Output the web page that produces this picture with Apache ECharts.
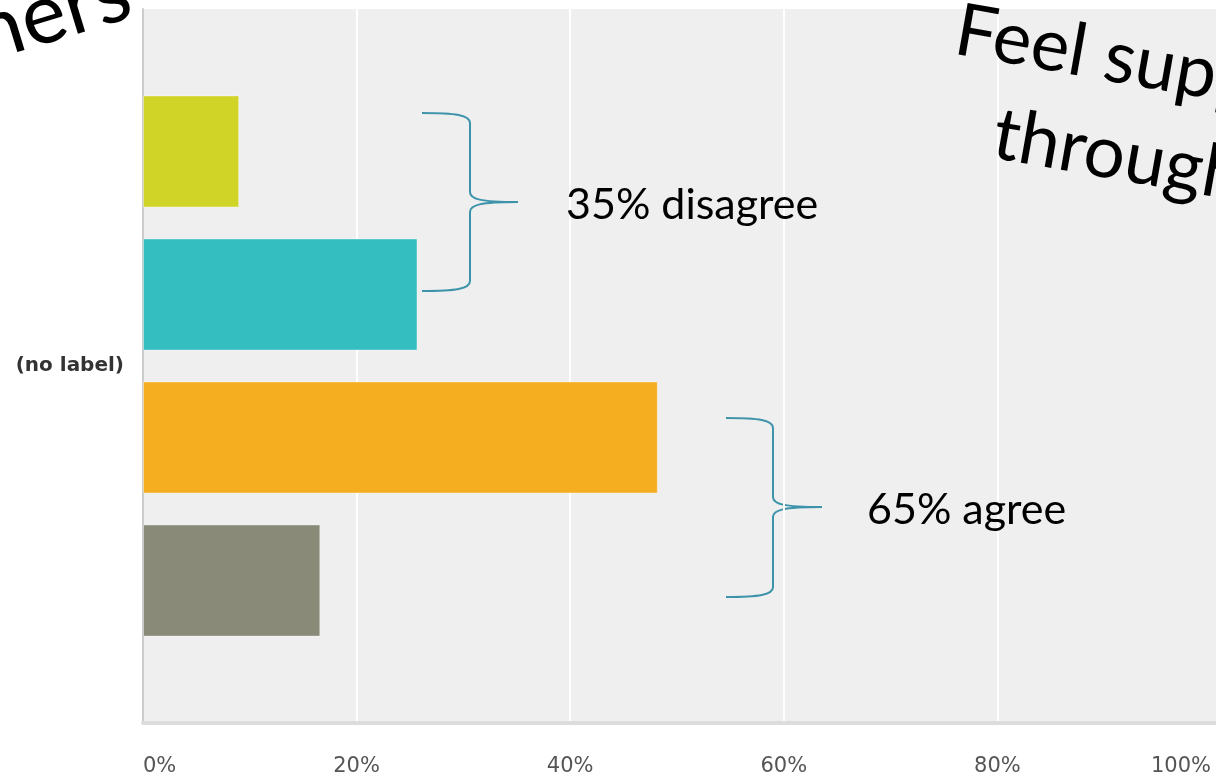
<!DOCTYPE html>
<html>
<head>
<meta charset="utf-8">
<script src="https://cdn.jsdelivr.net/npm/echarts@6/dist/echarts.min.js"></script>
<style>
  html, body { margin: 0; padding: 0; background: #ffffff; }
  #chart { width: 1216px; height: 777px; }
</style>
</head>
<body>
<div id="chart"></div>
<script>
// Survey responses (percent of respondents), one question, four answer levels
const categories = ['(no label)'];
const responseLevels = ['Strongly disagree', 'Disagree', 'Agree', 'Strongly agree'];
const stronglyDisagree = [9.0];
const disagree = [25.7];
const agree = [48.2];
const stronglyAgree = [16.6];
const levelColors = ['#d0d426', '#35bec0', '#f6ae21', '#8a8a78'];
const xTicks = { min: 0, max: 100, interval: 20 };

const chart = echarts.init(document.getElementById('chart'), null, { renderer: 'canvas' });

const seriesValues = [stronglyDisagree, disagree, agree, stronglyAgree];
const series = seriesValues.map((vals, i) => ({
  name: responseLevels[i],
  type: 'bar',
  data: vals,
  barWidth: 112,
  barGap: '27.7%',
  itemStyle: {
    color: levelColors[i],
    borderColor: 'rgba(255,255,255,0.35)',
    borderWidth: 1
  },
  silent: true
}));

const braceColor = '#3d93aa';
const slideFont = 'Lato, "Open Sans", sans-serif';

// Curly brace opening to the left: ends at xEnd, spine at xSpine, tip at xTip
function brace(xEnd, xSpine, xTip, yTop, yMid, yBot) {
  const st = { fill: null, stroke: braceColor, lineWidth: 2 };
  const w = xSpine - xEnd;
  const t = xTip - xSpine;
  const parts = [
    { type: 'bezierCurve', shape: { x1: xEnd, y1: yTop, cpx1: xEnd + w * 0.7, cpy1: yTop, cpx2: xSpine, cpy2: yTop + 2, x2: xSpine, y2: yTop + 10 } },
    { type: 'line', shape: { x1: xSpine, y1: yTop + 10, x2: xSpine, y2: yMid - 10 } },
    { type: 'bezierCurve', shape: { x1: xSpine, y1: yMid - 10, cpx1: xSpine, cpy1: yMid - 3, cpx2: xSpine + t * 0.2, cpy2: yMid, x2: xTip, y2: yMid } },
    { type: 'bezierCurve', shape: { x1: xTip, y1: yMid, cpx1: xSpine + t * 0.2, cpy1: yMid, cpx2: xSpine, cpy2: yMid + 3, x2: xSpine, y2: yMid + 10 } },
    { type: 'line', shape: { x1: xSpine, y1: yMid + 10, x2: xSpine, y2: yBot - 10 } },
    { type: 'bezierCurve', shape: { x1: xSpine, y1: yBot - 10, cpx1: xSpine, cpy1: yBot - 2, cpx2: xEnd + w * 0.7, cpy2: yBot, x2: xEnd, y2: yBot } }
  ];
  return { type: 'group', z: 50, silent: true, children: parts.map(p => Object.assign(p, { style: st, silent: true })) };
}

chart.setOption({
  animation: false,
  backgroundColor: '#ffffff',
  grid: { left: 143, right: 5, top: 9, bottom: 54, containLabel: false },
  xAxis: {
    type: 'value',
    min: xTicks.min,
    max: xTicks.max,
    interval: xTicks.interval,
    axisLine: { show: true, lineStyle: { color: '#dcdcdc', width: 4 } },
    axisTick: { show: false },
    splitLine: { show: true, showMinLine: false, showMaxLine: false, lineStyle: { color: '#ffffff', width: 2 } },
    axisLabel: {
      formatter: '{value}%',
      color: '#555555',
      fontFamily: '"DejaVu Sans", Verdana, sans-serif',
      fontSize: 21,
      margin: 33,
      alignMinLabel: 'left',
      alignMaxLabel: 'right'
    }
  },
  yAxis: {
    type: 'category',
    data: categories,
    axisLine: { show: true, lineStyle: { color: '#cccccc', width: 2 } },
    axisTick: { show: false },
    axisLabel: {
      color: '#333333',
      fontWeight: 'bold',
      fontFamily: '"DejaVu Sans", Verdana, sans-serif',
      fontSize: 20,
      margin: 19
    }
  },
  series: series,
  graphic: [
    // plot background, continued to the right edge of the slide
    { type: 'rect', z: -10, silent: true, shape: { x: 143, y: 9, width: 1073, height: 714 }, style: { fill: '#efefef' } },
    { type: 'rect', z: -9, silent: true, shape: { x: 143, y: 721, width: 1073, height: 4 }, style: { fill: '#dcdcdc' } },
    brace(422, 470, 518, 113, 202, 291),
    brace(726, 773, 822, 418, 507, 597),
    {
      type: 'text', z: 50, silent: true, x: 566, y: 205,
      style: { text: '35% disagree', fill: '#000000', font: '43px ' + slideFont, align: 'left', verticalAlign: 'middle' }
    },
    {
      type: 'text', z: 50, silent: true, x: 867, y: 510,
      style: { text: '65% agree', fill: '#000000', font: '43px ' + slideFont, align: 'left', verticalAlign: 'middle' }
    },
    // slide title pieces, tilted
    {
      type: 'text', z: 60, silent: true, x: 956, y: 30, rotation: -10 * Math.PI / 180,
      style: { text: 'Feel supported', fill: '#000000', font: '73px ' + slideFont, align: 'left', verticalAlign: 'middle' }
    },
    {
      type: 'text', z: 60, silent: true, x: 994, y: 134, rotation: -10 * Math.PI / 180,
      style: { text: 'throughout', fill: '#000000', font: '73px ' + slideFont, align: 'left', verticalAlign: 'middle' }
    },
    {
      type: 'text', z: 60, silent: true, x: 128, y: -10, rotation: 17 * Math.PI / 180,
      style: { text: 'Teachers', fill: '#000000', font: '84px ' + slideFont, align: 'right', verticalAlign: 'middle' }
    }
  ]
});
</script>
</body>
</html>
